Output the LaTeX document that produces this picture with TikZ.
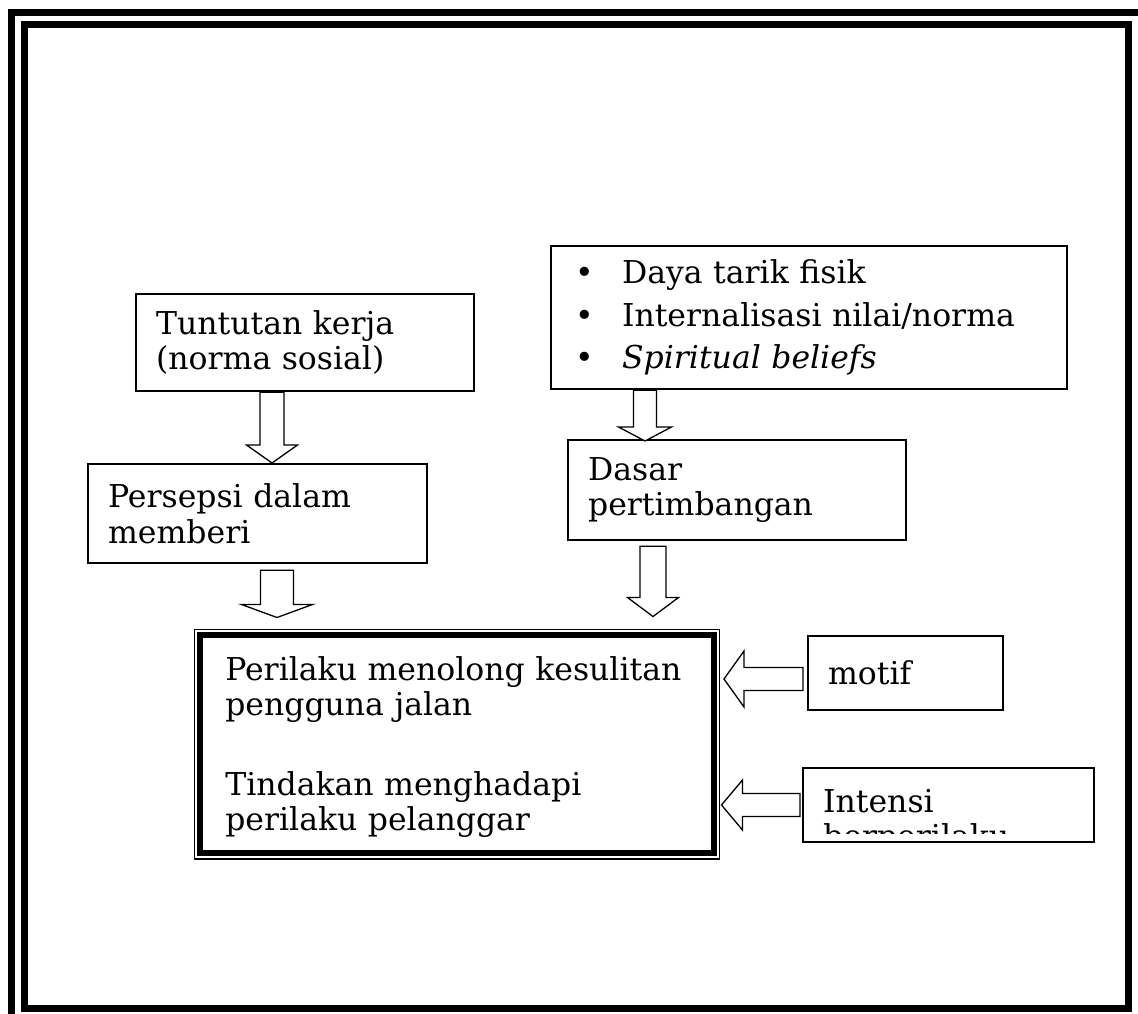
\documentclass[tikz,border=0pt]{standalone}
\usepackage{fontspec}
\setmainfont{DejaVu Serif}
\usetikzlibrary{calc,positioning}
\newcommand{\hurufbesar}{\fontsize{31.5}{35.5}\selectfont}
\tikzset{
  every picture/.style={line cap=butt, line join=miter},
  % kotak teks
  kotak/.style={draw, line width=2.2pt, inner xsep=20pt, inner ysep=0pt,
    align=left, anchor=north west, font=\hurufbesar},
  % bingkai halaman
  bingkai/.style={line width=7pt},
  % panah blok berongga
  blok/.style={line width=1.3pt, fill=white},
}
% panah blok ke bawah: {awal}{ujung}{setengah lebar batang}{setengah lebar kepala}{panjang kepala}
\newcommand{\blokbawah}[5]{%
  \draw[blok] let \p1=#1, \p2=#2 in
    (\x1-#3pt,\y1) -- (\x1-#3pt,\y2+#5pt) -- (\x1-#4pt,\y2+#5pt) -- (\x1,\y2)
    -- (\x1+#4pt,\y2+#5pt) -- (\x1+#3pt,\y2+#5pt) -- (\x1+#3pt,\y1) -- cycle;}
% panah blok ke kiri
\newcommand{\blokkiri}[5]{%
  \draw[blok] let \p1=#1, \p2=#2 in
    (\x1,\y1+#3pt) -- (\x2+#5pt,\y1+#3pt) -- (\x2+#5pt,\y1+#4pt) -- (\x2,\y1)
    -- (\x2+#5pt,\y1-#4pt) -- (\x2+#5pt,\y1-#3pt) -- (\x1,\y1-#3pt) -- cycle;}

\begin{document}
\begin{tikzpicture}[x=1pt,y=-1pt]
  \useasboundingbox (0,0) rectangle (1138,1014);
  \clip (0,0) rectangle (1138,1014);
  % bingkai ganda
  \draw[bingkai] (11.5,12.5) rectangle (1141.5,1021.5);
  \draw[bingkai] (24.5,24.5) rectangle (1128.5,1008.5);

  % kotak-kotak
  \node[kotak, text width=298pt, minimum height=97pt] (tuntutan) at (135,293)
    {Tuntutan kerja\\(norma sosial)};
  \node[kotak, text width=299pt, minimum height=99pt] (persepsi) at (87,463)
    {Persepsi dalam\\memberi};
  \node[kotak, inner xsep=24pt, text width=468pt, minimum height=143pt,
    font=\fontsize{31.5}{42.5}\selectfont] (fisik) at (550,245)
    {\makebox[47pt][l]{\textbullet}Daya tarik fisik\\
     \makebox[47pt][l]{\textbullet}Internalisasi nilai/norma\\
     \makebox[47pt][l]{\textbullet}\textit{Spiritual beliefs}};
  \node[kotak, text width=298pt, minimum height=100pt] (dasar) at (567,439)
    {Dasar\\pertimbangan};
  \node[kotak, line width=1.5pt, inner xsep=31pt, text width=463pt,
    minimum height=229.5pt] (utama) at (193.5,628.5)
    {\rule{0pt}{30pt}Perilaku menolong kesulitan\\pengguna jalan\\[44pt]
     Tindakan menghadapi\\perilaku pelanggar};
  \draw[line width=6pt] ([shift={(6.5,6.5)}]utama.north west)
    rectangle ([shift={(-6.5,-6.5)}]utama.south east);
  \node[kotak, text width=155pt, minimum height=74pt] (motif) at (807,635) {motif};
  \node[kotak, minimum width=291pt, minimum height=74pt] (intensi) at (802,767) {};
  % teks terpotong di dalam kotak
  \begin{scope}
    \clip (intensi.north west) rectangle ($(intensi.south east)+(0,-10)$);
    \node[anchor=north west, inner sep=0pt, align=left, font=\hurufbesar]
      (intensiteks) at ($(intensi.north west)+(21,22)$) {Intensi\\berperilaku};
  \end{scope}

  % panah
  \blokbawah{(272,0 |- tuntutan.south)}{(272,0 |- persepsi.north)}{12}{25.5}{18}
  \blokbawah{($(277,0 |- persepsi.south)+(0,6)$)}{($(277,0 |- utama.north)+(0,-11)$)}{16.5}{35.5}{13}
  \blokbawah{(645,0 |- fisik.south)}{($(645,0 |- dasar.north)+(0,2)$)}{11.5}{26.5}{14}
  \blokbawah{($(653,0 |- dasar.south)+(0,5)$)}{($(653,0 |- utama.north)+(0,-12)$)}{13}{25.5}{19}
  \blokkiri{($(motif.west |- 0,679)+(-4,0)$)}{($(utama.east |- 0,679)+(4,0)$)}{11.5}{28}{20}
  \blokkiri{($(intensi.west |- 0,805)+(-2,0)$)}{($(utama.east |- 0,805)+(1.5,0)$)}{11.5}{25}{21}
\end{tikzpicture}
\end{document}
